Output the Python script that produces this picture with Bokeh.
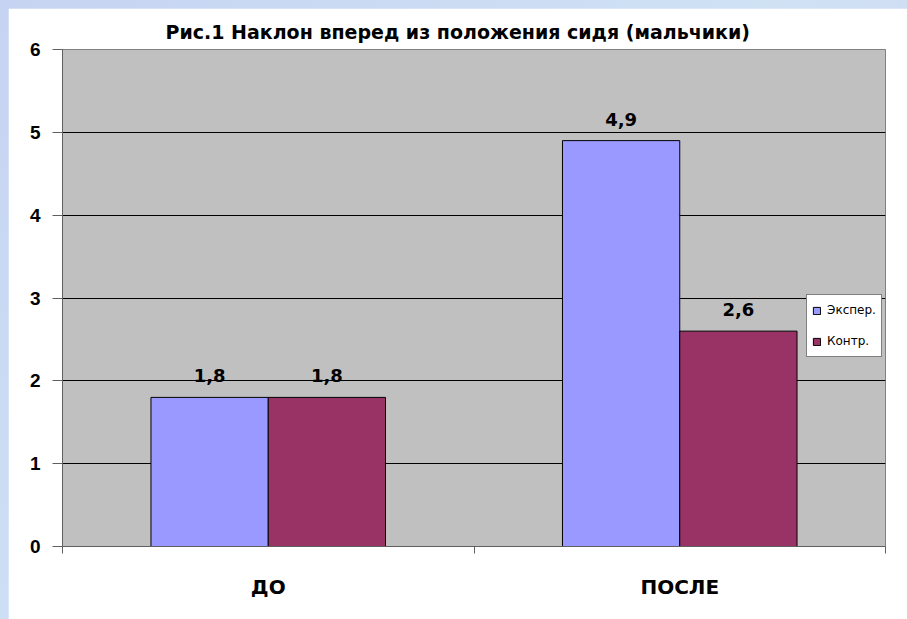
from bokeh.plotting import figure
from bokeh.layouts import column
from bokeh.core.properties import value
from bokeh.models import (ColumnDataSource, Range1d, FixedTicker, LabelSet, Legend, LegendItem)
from bokeh.transform import dodge
from bokeh.embed import file_html
from bokeh.resources import INLINE

title_text = "Рис.1 Наклон вперед из положения сидя (мальчики)"
categories = ["ДО", "ПОСЛЕ"]
series_names = ["Экспер.", "Контр."]
exper = [1.8, 4.9]
kontr = [1.8, 2.6]
y_ticks = [0, 1, 2, 3, 4, 5, 6]

colors = ["#9999FF", "#993366"]
FONT = "Liberation Sans"
WIDE = "DejaVu Sans"

centers = [i + 0.5 for i in range(len(categories))]
bounds = [float(i) for i in range(len(categories) + 1)]

def fmt(v):
    return f"{v:.1f}".replace(".", ",")

src = ColumnDataSource(dict(
    x=centers, cat=categories,
    exper=exper, kontr=kontr,
    exper_lbl=[fmt(v) for v in exper],
    kontr_lbl=[fmt(v) for v in kontr],
))

p = figure(width=899, height=611, output_backend="svg", toolbar_location=None,
           x_range=Range1d(0, len(categories)), y_range=Range1d(0, 6),
           min_border_left=54, min_border_right=22, min_border_top=41, min_border_bottom=73)

p.title.text = title_text
p.title.align = "left"
p.title.offset = 103
p.title.standoff = 14
p.title.text_font = WIDE
p.title.text_font_size = "19px"
p.title.text_font_style = "bold"
p.title.text_color = "black"

p.background_fill_color = "#C0C0C0"
p.border_fill_color = "white"
p.outline_line_color = "#808080"

bw = 0.285
r1 = p.vbar(x=dodge("x", -bw / 2, range=p.x_range), top="exper", width=bw, source=src,
            fill_color=colors[0], line_color="black", line_width=1)
r2 = p.vbar(x=dodge("x", bw / 2, range=p.x_range), top="kontr", width=bw, source=src,
            fill_color=colors[1], line_color="black", line_width=1)

for col, off in (("exper", -bw / 2), ("kontr", bw / 2)):
    ls = LabelSet(x=dodge("x", off, range=p.x_range), y=col, text=col + "_lbl", source=src,
                  y_offset=15, text_align="center", text_baseline="alphabetic",
                  text_font=value(WIDE), text_font_size=value("18px"),
                  text_font_style="bold", text_color="black")
    p.add_layout(ls)

# grid
p.xgrid.visible = False
p.ygrid.grid_line_color = "black"
p.ygrid.grid_line_width = 1
p.ygrid.ticker = FixedTicker(ticks=y_ticks)

# y axis
p.yaxis.ticker = FixedTicker(ticks=y_ticks)
p.yaxis.major_label_text_font = FONT
p.yaxis.major_label_text_font_size = "19px"
p.yaxis.major_label_text_font_style = "bold"
p.yaxis.major_label_text_color = "black"
p.yaxis.major_tick_out = 10
p.yaxis.major_tick_in = 0
p.yaxis.minor_tick_line_color = None
p.yaxis.axis_line_color = "#606060"
p.yaxis.major_tick_line_color = "#606060"
p.yaxis.major_label_standoff = 12

# x axis
p.xaxis.ticker = FixedTicker(ticks=centers, minor_ticks=bounds)
p.xaxis.major_label_overrides = {c: n for c, n in zip(centers, categories)}
p.xaxis.major_tick_line_color = None
p.xaxis.major_tick_out = 0
p.xaxis.major_tick_in = 0
p.xaxis.minor_tick_line_color = "#606060"
p.xaxis.minor_tick_out = 7
p.xaxis.minor_tick_in = 0
p.xaxis.axis_line_color = "#606060"
p.xaxis.major_label_text_font = WIDE
p.xaxis.major_label_text_font_size = "20px"
p.xaxis.major_label_text_font_style = "bold"
p.xaxis.major_label_text_color = "black"
p.xaxis.major_label_standoff = 21

legend = Legend(items=[LegendItem(label=series_names[0], renderers=[r1]),
                       LegendItem(label=series_names[1], renderers=[r2])],
                location=(744, 189))
legend.label_text_font = WIDE
legend.label_text_font_size = "12px"
legend.label_text_color = "black"
legend.glyph_width = 9
legend.glyph_height = 9
legend.label_height = 20
legend.label_standoff = 6
legend.spacing = 11
legend.padding = 5
legend.margin = 0
legend.border_line_color = "black"
legend.border_line_width = 1
legend.background_fill_color = "white"
legend.background_fill_alpha = 1
p.add_layout(legend, "center")

p.margin = (8, 0, 0, 8)
layout = column(p, styles={"background": "linear-gradient(135deg, #C6D3F2, #CFE2F4 50%, #D4CDEE)"})

open("out.html", "w").write(file_html(layout, INLINE))
